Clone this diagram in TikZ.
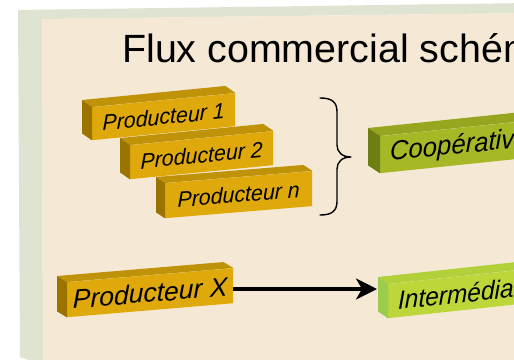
\documentclass[tikz,border=0pt]{standalone}
\usepackage{fontspec}
\setmainfont{Liberation Sans}
\usepackage{graphicx}
\usetikzlibrary{arrows.meta,calc}

\definecolor{panelside}{HTML}{DEE3D2}
\definecolor{panelface}{HTML}{F5E9D5}
\definecolor{goldfront}{HTML}{DFA90B}
\definecolor{goldtop}{HTML}{C09208}
\definecolor{goldside}{HTML}{9B7400}
\definecolor{olivefront}{HTML}{A7B827}
\definecolor{olivetop}{HTML}{96A61F}
\definecolor{oliveside}{HTML}{6E7E12}
\definecolor{limefront}{HTML}{BDD639}
\definecolor{limetop}{HTML}{B1D03A}
\definecolor{limeside}{HTML}{9CCC4C}

% text of a slab: horizontal squeeze, size, words
\newcommand\slabtext[3]{\scalebox{#1}[1]{\fontsize{#2}{#2}\selectfont\itshape #3}}
% top and left faces of a slab whose front face is the node #1
\newcommand\slabfaces[5]{%
  \fill[#4] (#1.north west) -- (#1.north east) -- ($(#1.north east)+(#2,#3)$) -- ($(#1.north west)+(#2,#3)$) -- cycle;
  \fill[#5] (#1.north west) -- (#1.south west) -- ($(#1.south west)+(#2,#3)$) -- ($(#1.north west)+(#2,#3)$) -- cycle;
}

\tikzset{
  slab/.style={anchor=north west, transform shape, inner sep=0pt, text=black},
  goldslab/.style={slab, fill=goldfront},
  leftslab/.style={slab, inner xsep=10pt, align=left},
  flow/.style={line width=3.2pt, -{Stealth[length=21pt,width=21pt,inset=6pt]}},
  bracket/.style={line width=1.4pt, line cap=round, line join=round}
}

\begin{document}
\begin{tikzpicture}[x=1pt,y=-1pt]
\useasboundingbox (0,0) rectangle (514,359);
\clip (0,0) rectangle (514,359);
\fill[white] (0,0) rectangle (514,359);

% panel: side strips and front face
\fill[panelside] (18,10) -- (530,3) -- (530,13) -- (42,19) -- (43,365) -- (20,357) -- cycle;
\fill[panelface] (42,19) -- (530,13) -- (530,365) -- (43,365) -- cycle;

% title
\node[anchor=base west, font=\fontsize{39.4}{40}\selectfont, inner sep=0pt] (title) at (122,62) {Flux commercial schéma};

% producers
\begin{scope}[shift={(92,107)}, yslant=0.098]
  \node[goldslab, minimum width=143pt, minimum height=33pt] (p1) at (0,0) {\slabtext{0.97}{22}{Producteur 1}};
\end{scope}
\slabfaces{p1}{-10}{-7}{goldtop}{goldside}

\begin{scope}[shift={(130,145)}, yslant=0.098]
  \node[goldslab, minimum width=143pt, minimum height=34pt] (p2) at (0,0) {\slabtext{0.97}{22}{Producteur 2}};
\end{scope}
\slabfaces{p2}{-10}{-7}{goldtop}{goldside}

\begin{scope}[shift={(165,183)}, yslant=0.082]
  \node[goldslab, minimum width=147pt, minimum height=35pt] (pn) at (0,0) {\slabtext{0.97}{22}{Producteur n}};
\end{scope}
\slabfaces{pn}{-9}{-6}{goldtop}{goldside}

\begin{scope}[shift={(67,282)}, yslant=0.084]
  \node[goldslab, minimum width=166pt, minimum height=35pt] (px) at (0,0) {\slabtext{1.0}{26.5}{Producteur X}};
\end{scope}
\slabfaces{px}{-10}{-6}{goldtop}{goldside}

% cooperative and intermediary
\begin{scope}[shift={(380,136)}, yslant=0.104]
  \node[leftslab, fill=olivefront, text width=150pt, minimum height=37pt] (coop) at (0,0) {\slabtext{0.95}{27}{Coopérative}};
\end{scope}
\slabfaces{coop}{-12}{-8}{olivetop}{oliveside}

\begin{scope}[shift={(388,284)}, yslant=0.108]
  \node[leftslab, fill=limefront, text width=150pt, minimum height=34pt] (inter) at (0,0) {\slabtext{0.94}{26}{Intermédiaire}};
\end{scope}
\slabfaces{inter}{-10}{-7}{limetop}{limeside}

% brace grouping the producers
\draw[bracket] (320,98) .. controls (332,98) and (337,102) .. (337,112) -- (337,145)
  .. controls (337,152) and (342,157) .. (351,157)
  .. controls (342,157) and (337,162) .. (337,169) -- (337,201)
  .. controls (337,211) and (332,215) .. (320,215);

% flow from producer X
\coordinate (tip) at ($(inter.north west)+(-11,5)$);
\draw[flow] (px.east |- tip) -- (tip);
\end{tikzpicture}
\end{document}
